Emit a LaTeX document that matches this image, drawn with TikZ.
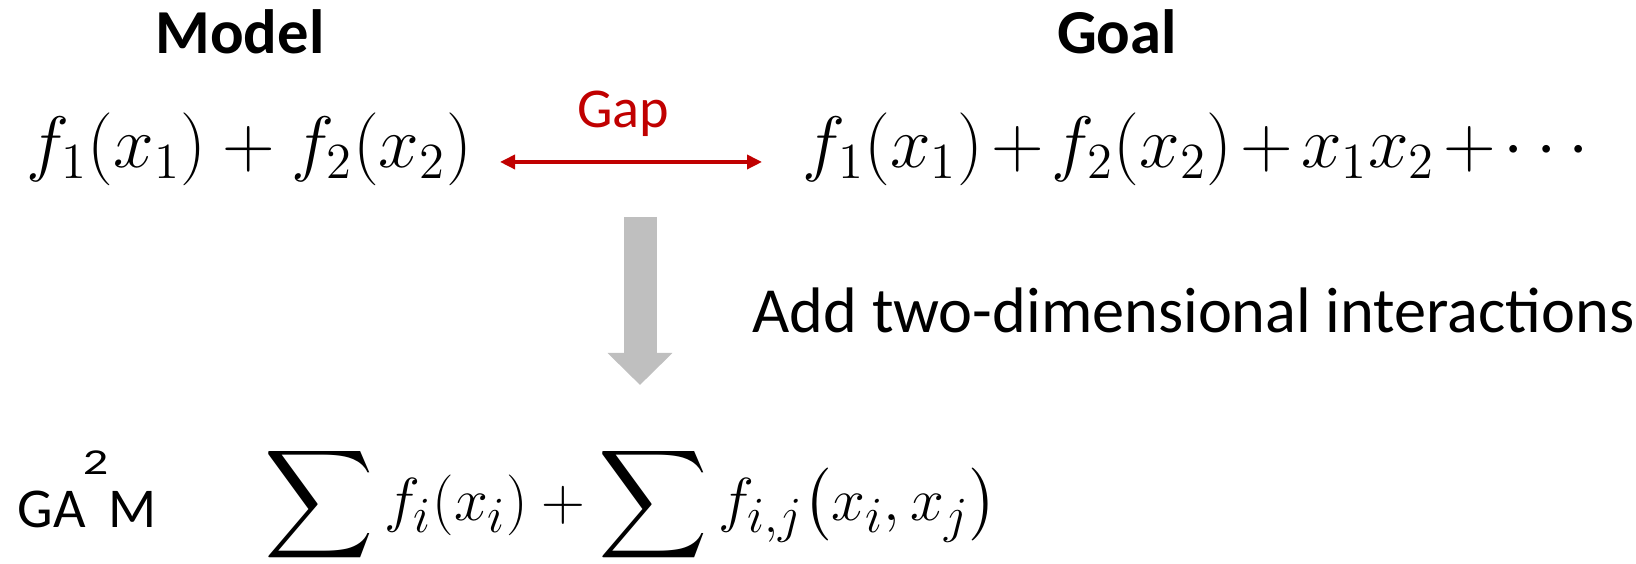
\documentclass[tikz,border=0pt]{standalone}
\usepackage{amsmath}
\usepackage{fontspec}
\setmainfont{Carlito}
\usepackage{tikz}
\usepackage{xcolor}
\usetikzlibrary{arrows.meta,positioning}
\definecolor{gapred}{HTML}{C00000}
\definecolor{stepgray}{HTML}{BFBFBF}
\newcommand{\bigsum}{\mathop{\vcenter{\hbox{\scalebox{1.25}{$\displaystyle\sum$}}}}}
\tikzset{
  head/.style={font=\fontsize{17.8}{20}\bfseries\selectfont, inner sep=0pt, anchor=base},
  txt/.style={font=\fontsize{18.3}{20}\selectfont, inner sep=0pt, anchor=base west},
  eqn/.style={font=\fontsize{19.8}{24}\selectfont, inner sep=0pt, anchor=base},
  gaparrow/.style={gapred, line width=1pt, {Triangle[width=1.4mm,length=1.5mm]}-{Triangle[width=1.4mm,length=1.5mm]}},
  bigdown/.style={stepgray, line width=3.3mm, -{Triangle[width=6.3mm,length=3.2mm]}},
}

\begin{document}
\begin{tikzpicture}

\useasboundingbox (0,0) rectangle (16.36,5.64);

% ===== headings =====
\node[head] (model) at (2.40,5.10) {Model};
\node[head] (goal) at (11.17,5.10) {Goal};

% ===== formulas =====
\node[eqn] (lhs) at (2.49,3.96) {$f_1(x_1)+f_2(x_2)$};
\node[eqn] (rhs) at (12.02,3.96) {$\medmuskip=2mu f_1(x_1)+f_2(x_2)+x_1x_2+\cdots$};

% ===== gap (red) =====
\node[eqn, text=gapred, font=\fontsize{16}{18}\selectfont] (gap) at (6.23,4.36) {Gap};
\coordinate (gapL) at (5.00,4.02);
\coordinate (gapR) at (7.62,4.02);
\draw[gaparrow] (gapL) -- (gapR);

% ===== step down (gray) =====
\coordinate (downtop) at (6.40,3.47);
\coordinate (downtip) at (6.40,1.79);
\draw[bigdown] (downtop) -- (downtip);
\node[txt] (add) at (7.52,2.31) {Add two-dimensional interactions};

% ===== GA2M =====
\node[txt, font=\fontsize{16}{18}\selectfont] (gam) at (0.17,0.36)
  {GA\kern-0.05em\raisebox{0.95em}{\scalebox{1.1}[0.8]{\fontsize{13}{13}\selectfont 2}}M};
\node[eqn, anchor=center, font=\fontsize{19}{24}\selectfont] (sumf) at (6.31,0.59)
  {$\bigsum f_i(x_i)+\bigsum f_{i,j}\bigl(x_i,x_j\bigr)$};

\end{tikzpicture}
\end{document}
